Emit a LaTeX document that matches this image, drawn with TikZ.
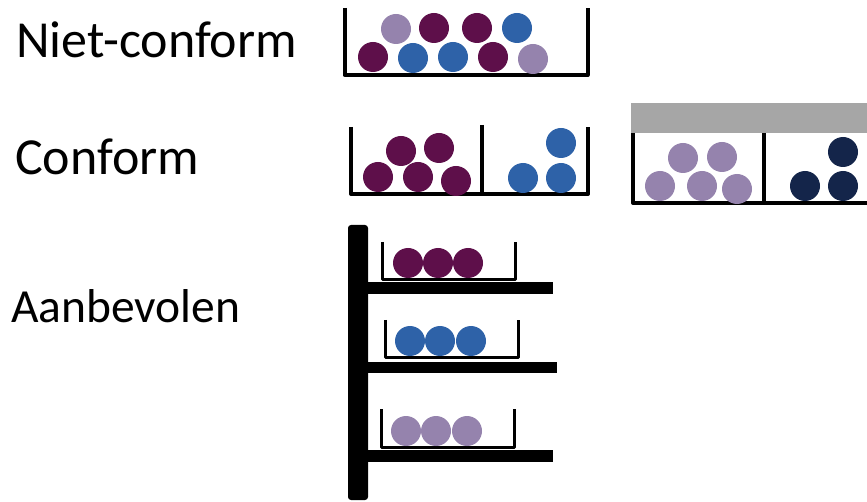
\documentclass[tikz,border=0pt]{standalone}
\usepackage{fontspec}
\setmainfont{Carlito}
\definecolor{dp}{HTML}{5E0F4A}
\definecolor{bl}{HTML}{2E62A8}
\definecolor{lp}{HTML}{9583AD}
\definecolor{nv}{HTML}{14254A}
\definecolor{gr}{HTML}{A6A6A6}
\begin{document}
\begin{tikzpicture}[x=1pt,y=-1pt,
  bin/.style={draw=black,line width=4pt,line join=round},
  sbin/.style={draw=black,line width=3pt,line join=round},
  lbl/.style={anchor=base west,inner sep=0pt,font=\fontsize{52}{60}\selectfont},
  ball/.style={circle,minimum size=30pt,inner sep=0pt,draw=none}]
\useasboundingbox (0,0) rectangle (867,502);
% labels
\node[lbl] (l1) at (16,58) {Niet-conform};
\node[lbl] (l2) at (15,175) {Conform};
\node[lbl,font=\fontsize{47.5}{56}\selectfont] (l3) at (11,323) {Aanbevolen};
% top bin
\draw[bin] (344.5,8) -- (344.5,75) -- (587.5,75) -- (587.5,8);
\foreach \x/\y/\c [count=\i] in {373/57/dp,413/58/bl,453/57/bl,493/57/dp,533/59/lp,396/29/lp,434/28/dp,477/28/dp,517/28/bl}
  \node[ball,fill=\c] (a\i) at (\x,\y) {};
% conform left bins
\draw[bin] (351,127) -- (351,194) -- (588,194) -- (588,127);
\draw[bin] (482,125) -- (482,194);
\foreach \x/\y/\c [count=\i] in {378/177/dp,418/177/dp,456/181/dp,401/151/dp,439/148/dp,523/178/bl,561/178/bl,561/143/bl}
  \node[ball,fill=\c] (b\i) at (\x,\y) {};
% conform right (lidded) bins
\fill[gr] (631,103) rectangle (867,133);
\draw[bin] (633,133) -- (633,203) -- (870,203);
\draw[bin] (764,133) -- (764,203);
\foreach \x/\y/\c [count=\i] in {660/186/lp,702/186/lp,737/189/lp,683/158/lp,722/157/lp,805/186/nv,843/186/nv,843/152/nv}
  \node[ball,fill=\c] (c\i) at (\x,\y) {};
% shelf
\fill[black,rounded corners=3pt] (348,225) rectangle (368,500);
\fill[black] (366,282) rectangle (553,294);
\fill[black] (366,362) rectangle (557,373);
\fill[black] (366,450) rectangle (553,462);
\draw[sbin] (382,242) -- (382,280) -- (515,280) -- (515,242);
\draw[sbin] (385,320) -- (385,358) -- (518,358) -- (518,320);
\draw[sbin] (381,409) -- (381,447) -- (514,447) -- (514,409);
\foreach \x/\y/\c [count=\i] in {408/263/dp,438/263/dp,468/263/dp,410/341/bl,440/341/bl,471/341/bl,406/431/lp,436/431/lp,467/431/lp}
  \node[ball,fill=\c] (d\i) at (\x,\y) {};
\end{tikzpicture}
\end{document}
